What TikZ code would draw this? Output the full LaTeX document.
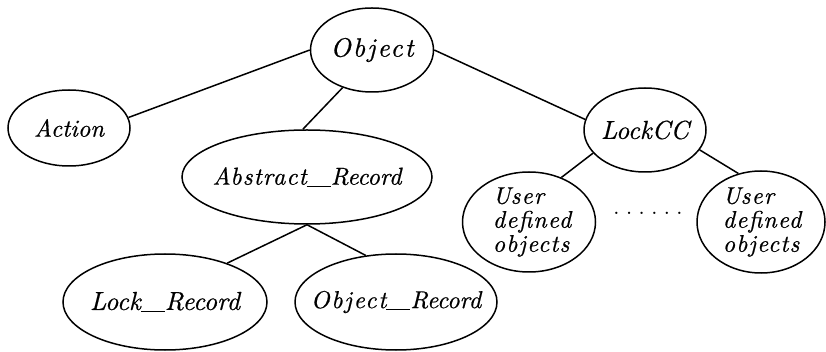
\documentclass[tikz,border=0pt]{standalone}
\usepackage{fontspec}
% the 10pt design of Latin Modern, scaled up, keeps the strokes heavy
\setmainfont{lmroman10-regular.otf}[ItalicFont=lmroman10-italic.otf, ItalicFeatures={FakeBold=0.6}]
\usetikzlibrary{shapes.geometric}

% long underscore joining the two halves of a class name
\newcommand{\longbar}{\rule[-2.2pt]{24pt}{1.1pt}}
\newcommand{\lsize}[1]{\fontsize{#1}{24}\selectfont\itshape}

\tikzset{
  oval/.style={draw, ellipse, line width=1.5pt, inner sep=0pt},
  lbl/.style={font=\lsize{24.5}, inner sep=0pt},
  link/.style={line width=1.5pt}
}

\begin{document}
\begin{tikzpicture}[x=1pt, y=-1pt]
  \useasboundingbox (0,0) rectangle (826,352);

  % class ellipses
  \node[oval, minimum width=123pt, minimum height=84pt] (obj) at (372,50) {};
  \node[oval, minimum width=122pt, minimum height=76pt] (act) at (69,128) {};
  \node[oval, minimum width=250pt, minimum height=94pt] (abs) at (307,177) {};
  \node[oval, minimum width=122pt, minimum height=84pt] (lcc) at (645,130) {};
  \node[oval, minimum width=133pt, minimum height=100pt] (udl) at (529,222) {};
  \node[oval, minimum width=128pt, minimum height=102pt] (udr) at (761,222) {};
  \node[oval, minimum width=204pt, minimum height=96pt] (lrec) at (165,302) {};
  \node[oval, minimum width=202pt, minimum height=96pt] (orec) at (396,302) {};

  % class names
  \node[lbl, font=\lsize{26.5}] (tobj) at (obj) {\addfontfeature{LetterSpace=8}Object};
  \node[lbl] (tact) at (act) {Action};
  \node[lbl] (tabs) at (abs) {{\addfontfeature{LetterSpace=4}Abstract}\longbar Record};
  \node[lbl, font=\lsize{26}] (tlcc) at (lcc) {LockCC};
  \node[lbl, font=\lsize{24}, align=left] (tudl) at ([xshift=3pt]udl) {\addfontfeature{LetterSpace=5}User\\ \addfontfeature{LetterSpace=5}defined\\ \addfontfeature{LetterSpace=5}objects};
  \node[lbl, font=\lsize{24}, align=left] (tudr) at ([xshift=1pt]udr) {\addfontfeature{LetterSpace=5}User\\ \addfontfeature{LetterSpace=5}defined\\ \addfontfeature{LetterSpace=5}objects};
  \node[lbl, font=\lsize{26}] (tlrec) at (lrec) {Lock\longbar Record};
  \node[lbl] (torec) at (orec) {{\addfontfeature{LetterSpace=7}Object}\longbar Record};

  % ellipsis between the user-defined classes
  \node[lbl, font=\fontsize{22}{22}\selectfont] (dots) at (648,213) {.\kern6.5pt.\kern6.5pt.\kern6.5pt.\kern6.5pt.\kern6.5pt.};

  % inheritance links
  \draw[link] (obj.west) -- (act.10);
  \draw[link] (obj.232) -- (abs.95);
  \draw[link] (obj.east) -- (lcc.170);
  \draw[link] (lcc.204) -- (udl.54);
  \draw[link] (lcc.340) -- (udr.115);
  \draw[link] (abs.south) -- (lrec.32);
  \draw[link] (abs.south) -- (orec.123);
\end{tikzpicture}
\end{document}
